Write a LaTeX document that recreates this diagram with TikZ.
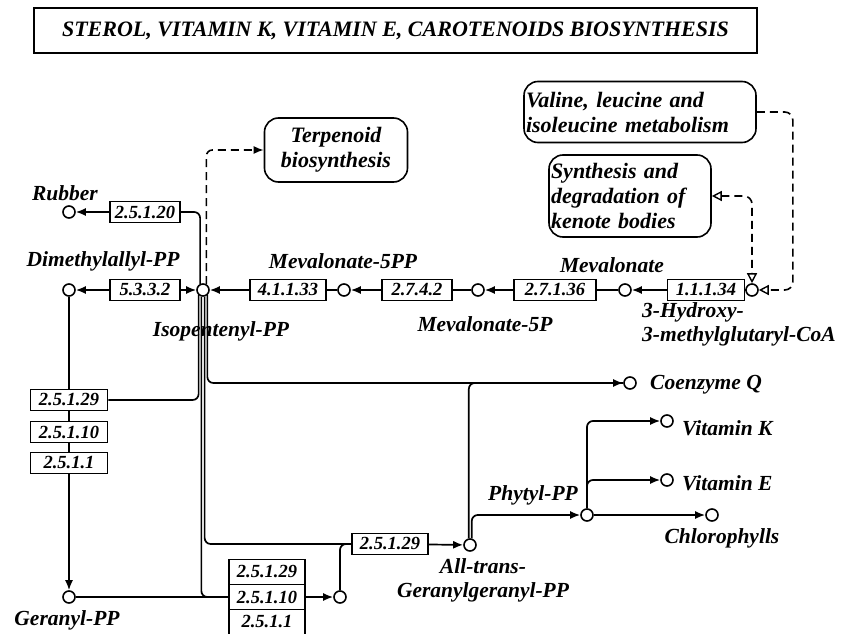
\documentclass[tikz,border=0pt]{standalone}
\usepackage{fontspec}
\setmainfont{Liberation Serif}
\usetikzlibrary{arrows.meta}

\tikzset{
	cpd/.style={circle, draw, fill=white, line width=1.6pt, minimum size=12pt, inner sep=0pt},
	enz/.style={draw, fill=white, line width=1.5pt, minimum width=72pt, minimum height=21pt, inner sep=1pt,
		font=\fontsize{18.5}{20}\selectfont\bfseries\itshape},
	mapbox/.style={draw, rounded corners=14pt, line width=1.6pt, inner sep=2pt,
		font=\fontsize{22}{25}\selectfont\bfseries\itshape},
	lbl/.style={inner sep=0pt, font=\fontsize{21.5}{24.5}\selectfont\bfseries\itshape},
	rxn/.style={line width=1.7pt},
	arr/.style={rxn, -{Latex[length=10pt,width=8pt]}},
	lnk/.style={line width=1.6pt, dash pattern=on 8pt off 5pt},
	opentip/.tip={Triangle[open, length=10pt, width=10pt, line width=1.4pt]}
}

\begin{document}
\begin{tikzpicture}[x=1pt, y=-1pt]
		\useasboundingbox (0,0) rectangle (841,634);
		
		% 标题
		\node[draw, line width=1.4pt, minimum width=723pt, minimum height=45pt,
			font=\fontsize{22}{26}\selectfont\bfseries\itshape] (title) at (395.5,30.5)
			{STEROL, VITAMIN K, VITAMIN E, CAROTENOIDS BIOSYNTHESIS};
		
		% 代谢图框
		\node[mapbox, align=center, minimum width=143pt, minimum height=64pt] (terp) at (336,150)
			{Terpenoid\\biosynthesis};
		\node[mapbox, text width=228pt, align=left, minimum height=61pt] (val) at (640,112)
			{Valine, leucine and\\isoleucine metabolism};
		\node[mapbox, text width=158pt, align=left, minimum height=82pt] (ket) at (630,196)
			{Synthesis and\\degradation of\\kenote bodies};
		
		% 化合物
		\node[cpd] (rub)  at (69,212) {};
		\node[cpd] (dma)  at (69,290) {};
		\node[cpd] (ipp)  at (203,290) {};
		\node[cpd] (mvpp) at (344,290) {};
		\node[cpd] (mvp)  at (478,290) {};
		\node[cpd] (mva)  at (625,290) {};
		\node[cpd] (hmg)  at (752,290) {};
		\node[cpd] (coq)  at (630,383) {};
		\node[cpd] (vitk) at (667,421) {};
		\node[cpd] (vite) at (667,480) {};
		\node[cpd] (phy)  at (587,515) {};
		\node[cpd] (chl)  at (712,515) {};
		\node[cpd] (ggpp) at (470,545) {};
		\node[cpd] (fpp)  at (340,597) {};
		\node[cpd] (gpp)  at (69,597) {};
		
		% 酶
		\node[enz, minimum width=70pt] (e1) at (145,212) {2.5.1.20};
		\node[enz, minimum width=70pt] (e2) at (145,290) {5.3.3.2};
		\node[enz, minimum width=76pt] (e3) at (288,290) {4.1.1.33};
		\node[enz, minimum width=70pt] (e4) at (417,290) {2.7.4.2};
		\node[enz, minimum width=82pt] (e5) at (555,290) {2.7.1.36};
		\node[enz, minimum width=77pt] (e6) at (706,290) {1.1.1.34};
		\node[enz, minimum width=77pt] (e7) at (69,400) {2.5.1.29};
		\node[enz, minimum width=77pt] (e8) at (69,432) {2.5.1.10};
		\node[enz, minimum width=77pt] (e9) at (69,463) {2.5.1.1};
		\node[enz, minimum width=76pt, minimum height=25pt] (e10) at (267,572) {2.5.1.29};
		\node[enz, minimum width=76pt, minimum height=25pt] (e11) at (267,597) {2.5.1.10};
		\node[enz, minimum width=76pt, minimum height=25pt] (e12) at (267,622) {2.5.1.1};
		\node[enz, minimum width=76pt] (e13) at (390,544) {2.5.1.29};
		
		% 名称
		\node[lbl, anchor=base] (lrub) at (65,200) {Rubber};
		\node[lbl, anchor=base] (ldma) at (103,266) {Dimethylallyl-PP};
		\node[lbl, anchor=base] (lipp) at (221,336) {Isopentenyl-PP};
		\node[lbl, anchor=base] (lmvpp) at (343,268) {Mevalonate-5PP};
		\node[lbl, anchor=base] (lmvp) at (485,331) {Mevalonate-5P};
		\node[lbl, anchor=base] (lmva) at (612,272) {Mevalonate};
		\node[lbl, anchor=north west, align=left] (lhmg) at (642,302)
			{3-Hydroxy-\\3-methylglutaryl-CoA};
		\node[lbl, anchor=base west] (lcoq) at (650,389) {Coenzyme Q};
		\node[lbl, anchor=base west] (lvitk) at (682,435) {Vitamin K};
		\node[lbl, anchor=base west] (lvite) at (682,490) {Vitamin E};
		\node[lbl, anchor=base] (lchl) at (722,543) {Chlorophylls};
		\node[lbl, anchor=base] (lphy) at (533,500) {Phytyl-PP};
		\node[lbl, anchor=north, align=center] (lggpp) at (483,558)
			{All-trans-\\Geranylgeranyl-PP};
		\node[lbl, anchor=base] (lgpp) at (67,625) {Geranyl-PP};
		
		% 甲羟戊酸途径
		\draw[rxn] (hmg) -- (e6);
		\draw[arr] (e6) -- (mva);
		\draw[rxn] (mva) -- (e5);
		\draw[arr] (e5) -- (mvp);
		\draw[rxn] (mvp) -- (e4);
		\draw[arr] (e4) -- (mvpp);
		\draw[rxn] (mvpp) -- (e3);
		\draw[arr] (e3) -- (ipp);
		\draw[arr] (e2) -- (ipp);
		\draw[arr] (e2) -- (dma);
		\draw[rxn, rounded corners=6pt] (ipp.115) |- (e1.east);
		\draw[arr] (e1) -- (rub);
		
		% 异戊二烯链延长
		\draw[rxn] (dma) -- (e7);
		\draw[rxn] (e7) -- (e8);
		\draw[rxn] (e8) -- (e9);
		\draw[arr] (e9) -- (gpp);
		\draw[rxn, rounded corners=6pt] (ipp.230) |- (e7.east);
		\draw[rxn, rounded corners=6pt] (ipp.256) |- (e11.west);
		\draw[rxn, rounded corners=6pt] (ipp.284) |- (e13.west);
		\draw[arr, rounded corners=6pt] (ipp.310) |- (coq.west);
		\draw[rxn] (gpp) -- (e11);
		\draw[arr] (e11) -- (fpp);
		\draw[rxn, rounded corners=6pt] (fpp.north) |- (e13.west);
		\draw[arr] (e13) -- (ggpp);
		\draw[rxn, rounded corners=6pt] (ggpp.100) |- (coq.west);
		\draw[arr, rounded corners=6pt] (ggpp.75) |- (phy.west);
		\draw[arr] (phy) -- (chl);
		\draw[arr, rounded corners=6pt] (phy.north) |- (vitk.west);
		\draw[arr, rounded corners=6pt] (phy.north) |- (vite.west);
		
		% 虚线联系
		\draw[lnk, -{Latex[length=10pt,width=8pt]}, rounded corners=6pt] (ipp.60) |- (terp.west);
		\draw[lnk, -opentip, rounded corners=8pt] (val.east) -- ++(36,0) |- (hmg.east);
		\draw[lnk, opentip-opentip, rounded corners=8pt] (ket.east) -| (hmg.north);
	\end{tikzpicture}
\end{document}
